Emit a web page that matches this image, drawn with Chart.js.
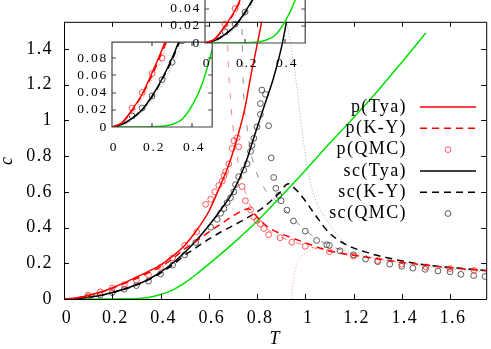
<!DOCTYPE html>
<html>
<head>
<meta charset="utf-8">
<script src="https://cdn.jsdelivr.net/npm/chart.js@4.4.1/dist/chart.umd.min.js"></script>
<style>
  html, body { margin: 0; padding: 0; background: #fff; }
  #wrap { position: relative; width: 491px; height: 349px; overflow: hidden; }
  canvas { position: absolute; }
</style>
</head>
<body>
<div id="wrap">
  <canvas id="main" width="491" height="349" style="left:0;top:0"></canvas>
  <canvas id="inset1" width="145" height="127" style="left:72px;top:30px"></canvas>
  <canvas id="inset2" width="145" height="127" style="left:165px;top:-54px"></canvas>
</div>
<script>
// [T, c] pairs
const pTya = [[0,0],[0.05,0.005],[0.1,0.02],[0.15,0.038],[0.2,0.063],[0.25,0.09],[0.3,0.122],[0.35,0.155],[0.4,0.19],[0.45,0.24],[0.5,0.3],[0.55,0.385],[0.6,0.49],[0.643,0.62],[0.68,0.74],[0.7,0.82],[0.724,0.93],[0.75,1.07],[0.773,1.24],[0.8,1.42],[0.82,1.56],[0.83,1.65]];
const pKY = [[0,0],[0.05,0.005],[0.1,0.019],[0.15,0.037],[0.2,0.06],[0.25,0.087],[0.3,0.115],[0.35,0.147],[0.4,0.18],[0.45,0.225],[0.5,0.28],[0.55,0.325],[0.6,0.375],[0.65,0.42],[0.7,0.465],[0.74,0.495],[0.765,0.505],[0.78,0.49],[0.8,0.46],[0.83,0.42],[0.86,0.39],[0.9,0.365],[0.95,0.34],[1.0,0.315],[1.05,0.29],[1.1,0.27],[1.2,0.245],[1.3,0.225],[1.4,0.205],[1.5,0.19],[1.6,0.175],[1.75,0.158]];
const pQMC = [[0.1,0.022],[0.15,0.04],[0.2,0.062],[0.25,0.08],[0.3,0.105],[0.35,0.135],[0.4,0.178],[0.45,0.23],[0.5,0.3],[0.55,0.376],[0.587,0.53],[0.608,0.558],[0.625,0.6],[0.642,0.636],[0.656,0.66],[0.663,0.69],[0.67,0.713],[0.683,0.757],[0.697,0.843],[0.704,0.886],[0.718,0.903],[0.724,0.852],[0.738,0.63],[0.752,0.55],[0.773,0.5],[0.786,0.46],[0.8,0.44],[0.814,0.42],[0.828,0.395],[0.848,0.36],[0.896,0.343],[0.944,0.318],[1.0,0.295],[1.1,0.265],[1.2,0.24],[1.3,0.215],[1.4,0.195],[1.5,0.18],[1.6,0.17],[1.7,0.16]];
const scTya = [[0,0],[0.05,0.003],[0.1,0.01],[0.15,0.02],[0.2,0.036],[0.25,0.056],[0.3,0.08],[0.35,0.11],[0.4,0.15],[0.45,0.2],[0.5,0.26],[0.55,0.33],[0.6,0.41],[0.65,0.5],[0.7,0.6],[0.75,0.75],[0.793,0.93],[0.83,1.08],[0.869,1.24],[0.9,1.4],[0.922,1.55],[0.935,1.65]];
const scKY = [[0,0],[0.05,0.003],[0.1,0.01],[0.15,0.02],[0.2,0.035],[0.25,0.055],[0.3,0.078],[0.35,0.107],[0.4,0.145],[0.45,0.19],[0.5,0.245],[0.55,0.29],[0.6,0.335],[0.65,0.375],[0.7,0.41],[0.766,0.46],[0.828,0.515],[0.89,0.59],[0.93,0.645],[0.943,0.634],[0.97,0.6],[1.0,0.55],[1.026,0.5],[1.054,0.447],[1.096,0.375],[1.166,0.307],[1.248,0.264],[1.343,0.23],[1.479,0.195],[1.632,0.173],[1.75,0.16]];
const scQMC = [[0.1,0.013],[0.15,0.022],[0.2,0.036],[0.25,0.055],[0.3,0.075],[0.35,0.1],[0.4,0.14],[0.45,0.19],[0.5,0.247],[0.546,0.316],[0.608,0.402],[0.635,0.446],[0.649,0.48],[0.663,0.506],[0.676,0.54],[0.69,0.567],[0.704,0.6],[0.711,0.64],[0.724,0.685],[0.745,0.722],[0.759,0.757],[0.773,0.826],[0.779,0.86],[0.787,0.9],[0.8,0.964],[0.814,1.033],[0.814,1.094],[0.82,1.17],[0.835,1.146],[0.848,0.97],[0.859,0.79],[0.869,0.68],[0.878,0.62],[0.89,0.58],[0.9,0.55],[0.924,0.498],[0.951,0.437],[1.0,0.38],[1.047,0.328],[1.089,0.304],[1.1,0.3],[1.144,0.27],[1.2,0.247],[1.25,0.224],[1.3,0.209],[1.35,0.195],[1.4,0.183],[1.446,0.173],[1.497,0.166],[1.55,0.157],[1.6,0.152],[1.645,0.138],[1.698,0.131],[1.745,0.126]];
const green = [[0,0],[0.1,0],[0.2,0.0003],[0.25,0.001],[0.3,0.003],[0.35,0.009],[0.4,0.025],[0.45,0.05],[0.5,0.09],[0.55,0.14],[0.6,0.195],[0.7,0.31],[0.8,0.435],[0.9,0.575],[1.0,0.72],[1.1,0.87],[1.2,1.015],[1.3,1.165],[1.4,1.325],[1.5,1.49]];
// thin unlabelled curves
const pHighT = [[0.675,1.6],[0.68,1.35],[0.69,1.12],[0.7,0.97],[0.72,0.78],[0.745,0.63],[0.77,0.53],[0.8,0.45],[0.85,0.385],[0.9,0.345],[0.95,0.32],[1.0,0.3],[1.1,0.265],[1.2,0.24]];
const scHighT = [[0.737,1.6],[0.74,1.36],[0.745,1.135],[0.76,0.95],[0.774,0.826],[0.8,0.7],[0.83,0.62],[0.87,0.56],[0.9,0.52],[0.95,0.45],[1.0,0.385],[1.05,0.335],[1.1,0.3],[1.2,0.25]];
const pPade = [[0.94,-0.05],[0.943,0],[0.947,0.06],[0.953,0.12],[0.965,0.19],[0.986,0.24],[1.01,0.265],[1.04,0.28],[1.07,0.288],[1.1,0.288],[1.15,0.275],[1.2,0.255],[1.3,0.225],[1.4,0.205]];
const scPade = [[0.915,1.62],[0.924,1.55],[0.958,1.26],[0.986,0.95],[1.01,0.72],[1.04,0.567],[1.096,0.428],[1.15,0.333],[1.206,0.273],[1.3,0.225],[1.4,0.2],[1.55,0.175],[1.75,0.15]];
const pLowT = [[0,0],[0.05,0.004],[0.1,0.015],[0.15,0.032],[0.2,0.055],[0.25,0.08],[0.28,0.1],[0.3,0.115]];
const scLowT = [[0,0],[0.05,0.002],[0.1,0.008],[0.15,0.017],[0.2,0.031],[0.25,0.049],[0.3,0.071],[0.35,0.097],[0.38,0.12]];

const mainXTicks = [0, 0.2, 0.4, 0.6, 0.8, 1, 1.2, 1.4, 1.6];
const mainYTicks = [0, 0.2, 0.4, 0.6, 0.8, 1, 1.2, 1.4];
const insetXTicks = [0, 0.2, 0.4];
const insetYTicks = [0, 0.02, 0.04, 0.06, 0.08];

const serif = "'Liberation Serif', 'DejaVu Serif', serif";
const pts = a => a.map(([x, y]) => ({ x, y }));
const fmt = v => String(+Number(v).toFixed(3));

function line(label, data, color, width, dash, inKey) {
  return {
    label, data: pts(data), showLine: true, inKey,
    borderColor: color, borderWidth: width, borderDash: dash,
    pointRadius: 0, cubicInterpolationMode: 'monotone'
  };
}
function dots(label, data, color) {
  return {
    label, data: pts(data), showLine: false, inKey: true,
    pointStyle: 'circle', pointRadius: 2.9, pointBorderWidth: 0.8,
    pointBorderColor: color, pointBackgroundColor: 'rgba(0,0,0,0)'
  };
}

// the figure's lettering is set wide
const spacing = {
  id: 'spacing',
  beforeDraw(chart, args, o) { chart.ctx.letterSpacing = o.px + 'px'; }
};

// gnuplot-like frame with inward ticks on all four sides
const frameTicks = {
  id: 'frameTicks',
  afterDatasetsDraw(chart, args, o) {
    const { ctx, chartArea: a, scales: { x, y } } = chart;
    const off = o.off;
    ctx.save();
    ctx.strokeStyle = o.color;
    ctx.lineWidth = o.width;
    ctx.beginPath();
    x.ticks.forEach(t => {
      const px = Math.round(x.getPixelForValue(t.value)) + off;
      ctx.moveTo(px, a.bottom); ctx.lineTo(px, a.bottom - o.len);
      ctx.moveTo(px, a.top); ctx.lineTo(px, a.top + o.len);
    });
    y.ticks.forEach(t => {
      const py = Math.round(y.getPixelForValue(t.value)) + off;
      ctx.moveTo(a.left, py); ctx.lineTo(a.left + o.len, py);
      ctx.moveTo(a.right, py); ctx.lineTo(a.right - o.len, py);
    });
    ctx.rect(a.left + off, a.top + off, a.right - a.left, a.bottom - a.top);
    ctx.stroke();
    ctx.restore();
  }
};

const keyBox = {
  id: 'keyBox',
  afterDatasetsDraw(chart, args, o) {
    if (!o.show) return;
    const ctx = chart.ctx;
    const rows = chart.data.datasets.filter(d => d.inKey);
    ctx.save();
    ctx.font = o.font;
    ctx.textAlign = 'right';
    ctx.textBaseline = 'middle';
    rows.forEach((d, i) => {
      const yy = o.top + i * o.step;
      ctx.fillStyle = '#000';
      ctx.fillText(d.label, o.textRight, yy);
      ctx.beginPath();
      if (d.showLine) {
        ctx.strokeStyle = d.borderColor;
        ctx.lineWidth = d.borderWidth;
        ctx.setLineDash(d.borderDash || []);
        ctx.moveTo(o.x0, yy); ctx.lineTo(o.x1, yy);
      } else {
        ctx.strokeStyle = d.pointBorderColor;
        ctx.lineWidth = d.pointBorderWidth;
        ctx.setLineDash([]);
        ctx.arc((o.x0 + o.x1) / 2, yy, d.pointRadius, 0, Math.PI * 2);
      }
      ctx.stroke();
    });
    ctx.restore();
  }
};

function keySets() {
  return [
    line('p(Tya)', pTya, '#ff0000', 1.5, [], true),
    line('p(K-Y)', pKY, '#ff0000', 1.5, [7, 5], true),
    dots('p(QMC)', pQMC, '#ff3030'),
    line('sc(Tya)', scTya, '#000000', 1.5, [], true),
    line('sc(K-Y)', scKY, '#000000', 1.5, [7, 5], true),
    dots('sc(QMC)', scQMC, '#333333')
  ];
}

new Chart(document.getElementById('main'), {
  type: 'scatter',
  data: {
    datasets: keySets().concat([
      line('g', green, '#00e000', 1.5, [], false),
      line('pht', pHighT, '#ff6060', 0.8, [6, 10], false),
      line('scht', scHighT, '#707070', 0.8, [6, 10], false),
      line('ppade', pPade, '#ff9090', 0.8, [1, 2], false),
      line('scpade', scPade, '#999999', 0.8, [1, 2], false)
    ])
  },
  options: {
    responsive: false, animation: false, devicePixelRatio: 1,
    layout: { padding: { top: 0, right: 3, left: 0, bottom: 0 } },
    plugins: {
      legend: { display: false }, tooltip: { enabled: false },
      spacing: { px: 1.4 },
      frameTicks: { len: 5, off: 0.5, color: '#000', width: 1 },
      keyBox: { show: true, font: '18px ' + serif, textRight: 407, x0: 420, x1: 476, top: 107, step: 21.3 }
    },
    scales: {
      x: {
        type: 'linear', min: 0, max: 1.75,
        grid: { display: false, drawTicks: false }, border: { display: false },
        afterBuildTicks: s => { s.ticks = mainXTicks.map(v => ({ value: v })); },
        afterFit: s => { s.height = 50; },
        ticks: { font: { family: serif, size: 18 }, color: '#000', padding: 8, labelOffset: 3, maxRotation: 0, autoSkip: false, callback: fmt },
        title: { display: true, text: 'T', color: '#000', font: { family: serif, size: 18, style: 'italic', lineHeight: 1 }, padding: { top: 0, bottom: 1 } }
      },
      y: {
        type: 'linear', min: 0, max: 1.552,
        grid: { display: false, drawTicks: false }, border: { display: false },
        afterBuildTicks: s => { s.ticks = mainYTicks.map(v => ({ value: v })); },
        afterFit: s => { s.width = 64; },
        ticks: { font: { family: serif, size: 18 }, color: '#000', padding: 11, autoSkip: false, callback: fmt },
        title: { display: true, text: 'c', color: '#000', font: { family: serif, size: 18, style: 'italic', lineHeight: 1 }, padding: { top: -2 } }
      }
    }
  },
  plugins: [spacing, frameTicks, keyBox]
});

function makeInset(id) {
  new Chart(document.getElementById(id), {
    type: 'scatter',
    data: {
      datasets: keySets().concat([
        line('g', green, '#00e000', 1.5, [], false),
        line('plow', pLowT, '#ff8080', 0.8, [1, 2], false),
        line('sclow', scLowT, '#999999', 0.8, [1, 2], false)
      ])
    },
    options: {
      responsive: false, animation: false, devicePixelRatio: 1,
      layout: { padding: { top: 2, right: 2, left: 0, bottom: 0 } },
      plugins: {
        legend: { display: false }, tooltip: { enabled: false },
        spacing: { px: 1.8 },
        frameTicks: { len: 4, off: 0, color: '#444', width: 1.2 },
        keyBox: { show: false }
      },
      scales: {
        x: {
          type: 'linear', min: 0, max: 0.5,
          grid: { display: false, drawTicks: false }, border: { display: false },
          afterBuildTicks: s => { s.ticks = insetXTicks.map(v => ({ value: v })); },
          afterFit: s => { s.height = 30; },
          ticks: { font: { family: serif, size: 13.5 }, color: '#000', padding: 12, labelOffset: 2, maxRotation: 0, autoSkip: false, callback: fmt }
        },
        y: {
          type: 'linear', min: 0, max: 0.0985,
          grid: { display: false, drawTicks: false }, border: { display: false },
          afterBuildTicks: s => { s.ticks = insetYTicks.map(v => ({ value: v })); },
          afterFit: s => { s.width = 40; },
          ticks: { font: { family: serif, size: 13.5 }, color: '#000', padding: 4, autoSkip: false, callback: fmt }
        }
      }
    },
    plugins: [spacing, frameTicks, keyBox]
  });
}
makeInset('inset1');
makeInset('inset2');
</script>
</body>
</html>
